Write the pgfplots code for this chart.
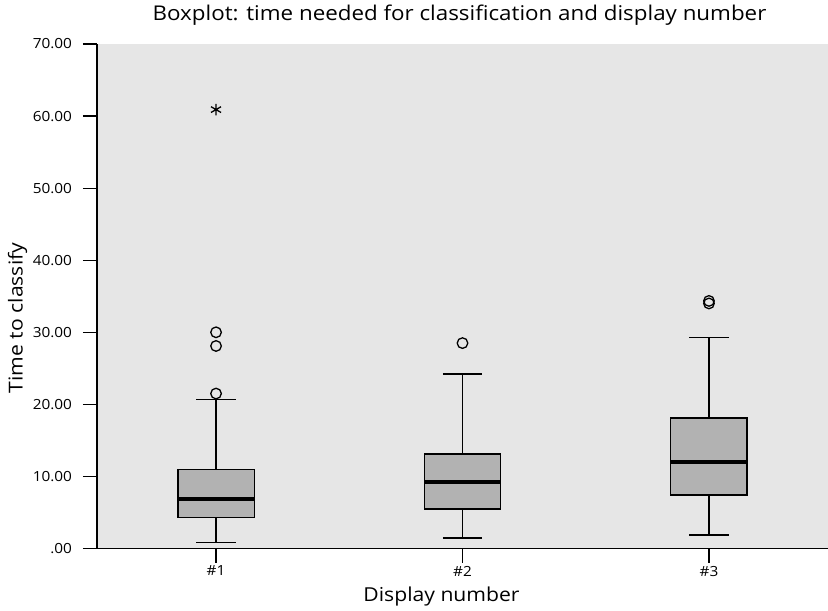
\documentclass[border=0pt]{standalone}
\usepackage{fontspec}
\setmainfont{Open Sans}[FakeStretch=1.1]
\usepackage{pgfplots}
\pgfplotsset{compat=1.18}
\usepgfplotslibrary{statistics}
\definecolor{bg}{HTML}{E6E6E6}
\definecolor{boxc}{HTML}{B2B2B2}
\begin{document}
\begin{tikzpicture}
\useasboundingbox (0,0) rectangle (828bp,611bp);
\begin{axis}[
  at={(97bp,62.5bp)}, anchor=south west,
  scale only axis, width=731bp, height=504.5bp,
  xmin=0.517, xmax=3.483, ymin=0, ymax=70,
  axis x line*=bottom, axis y line*=left,
  x axis line style={-, line width=1.8bp},
  y axis line style={-, line width=1.4bp},
  axis background/.style={fill=bg},
  xtick={1,2,3}, xticklabels={\#1,\#2,\#3},
  ytick={0,10,...,70},
  yticklabels={.00,10.00,20.00,30.00,40.00,50.00,60.00,70.00},
  tick align=outside, major tick length=14bp,
  tick style={black, line width=1.2bp},
  ticklabel style={font=\fontsize{14}{16}\selectfont},
  yticklabel style={xshift=-7.5bp},
  every axis title shift=0pt,
  title={Boxplot: time needed for classification and display number},
  title style={at={(axis description cs:0.4959,1.0462)}, anchor=base, font=\fontsize{20.4}{24}\selectfont},
  xlabel={Display number},
  xlabel style={at={(axis description cs:0.4713,-0.1060)}, anchor=base, font=\fontsize{19.3}{23}\selectfont},
  ylabel={Time to classify},
  ylabel style={at={(axis description cs:-0.1016,0.457)}, anchor=base, font=\fontsize{19.3}{23}\selectfont},
  clip=false,
  boxplot/draw direction=y,
]
\addplot[draw=black, fill=boxc, line width=1.4bp, mark=o, mark size=5.3bp,
  mark options={line width=1.3bp, fill=none},
  boxplot prepared={draw position=1, box extend=0.31, whisker extend=0.16,
    lower whisker=0.83, lower quartile=4.3,
    median=6.9, upper quartile=10.97, upper whisker=20.65,
    every median/.style={line width=4.5bp}}]
  table[row sep=\\, y index=0] {30.0\\ 28.1\\ 21.5\\};
\addplot[draw=black, fill=boxc, line width=1.4bp, mark=o, mark size=5.3bp,
  mark options={line width=1.3bp, fill=none},
  boxplot prepared={draw position=2, box extend=0.31, whisker extend=0.16,
    lower whisker=1.45, lower quartile=5.5,
    median=9.2, upper quartile=13.1, upper whisker=24.2,
    every median/.style={line width=4.5bp}}]
  table[row sep=\\, y index=0] {28.5\\};
\addplot[draw=black, fill=boxc, line width=1.4bp, mark=o, mark size=5.3bp,
  mark options={line width=1.3bp, fill=none},
  boxplot prepared={draw position=3, box extend=0.31, whisker extend=0.16,
    lower whisker=1.9, lower quartile=7.4,
    median=12.0, upper quartile=18.1, upper whisker=29.3,
    every median/.style={line width=4.5bp}}]
  table[row sep=\\, y index=0] {34.0\\ 34.35\\};
\addplot[only marks, black, mark=asterisk, mark size=5.8bp, mark options={line width=1.3bp}]
  coordinates {(1,60.9)};
\end{axis}
\end{tikzpicture}
\end{document}
